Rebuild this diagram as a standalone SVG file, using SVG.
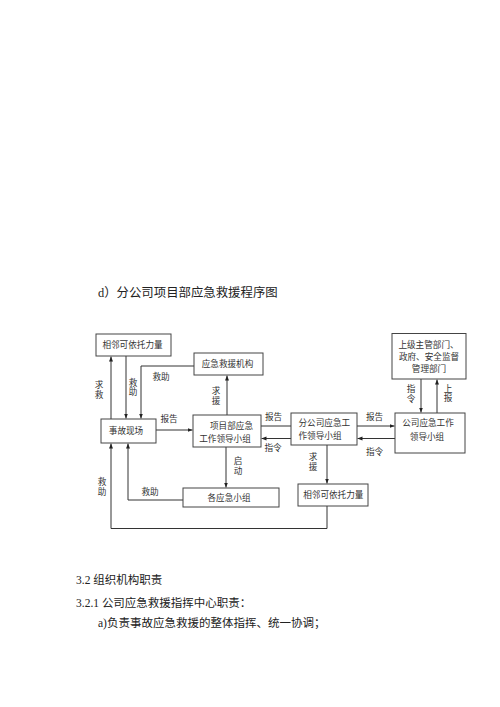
<svg xmlns="http://www.w3.org/2000/svg" width="500" height="707" viewBox="0 0 500 707">
<defs>
<style>
.b{fill:#fff;stroke:#444;stroke-width:1}
.c{fill:none;stroke:#333;stroke-width:1}
.ca{fill:none;stroke:#333;stroke-width:1;marker-end:url(#a)}
.t{font-family:"Liberation Serif","Noto Sans CJK SC",serif;font-size:8.6px;fill:#333;dominant-baseline:central}
.m{text-anchor:middle}
.p{font-family:"Liberation Serif","Noto Sans CJK SC",serif;fill:#222;dominant-baseline:central}
</style>
<marker id="a" viewBox="0 0 10 10" refX="10" refY="5" markerWidth="5" markerHeight="5" orient="auto" markerUnits="userSpaceOnUse">
<path d="M0,1 L10,5 L0,9 z" fill="#222"/>
</marker>
</defs>
<rect width="500" height="707" fill="#fff"/>

<text class="p" x="98" y="293" font-size="12.4">d）分公司项目部应急救援程序图</text>

<g id="connectors">
<path class="ca" d="M111,419 V356.5"/>
<path class="ca" d="M126,356 V418.5"/>
<path class="ca" d="M194,366 H141 V418.5"/>
<path class="ca" d="M156,430 H192.5"/>
<path class="ca" d="M227,415 V375.5"/>
<path class="c" d="M261,426 H291"/>
<path class="ca" d="M291,438.5 H261.5"/>
<path class="ca" d="M357,426 H394.5"/>
<path class="ca" d="M395,438.5 H357.5"/>
<path class="ca" d="M421,379 V412.5"/>
<path class="ca" d="M437,413 V379.5"/>
<path class="ca" d="M226,447 V487.5"/>
<path class="ca" d="M327,445 V483.5"/>
<path class="ca" d="M183,500 H128 V443.5"/>
<path class="ca" d="M327,506 V528.5 H111 V443.5"/>
</g>

<g id="labels">
<text class="t m" x="99" y="385">求</text><text class="t m" x="99" y="394.5">救</text>
<text class="t m" x="133" y="382.5">救</text><text class="t m" x="133" y="392">助</text>
<text class="t m" x="161" y="377">救助</text>
<text class="t m" x="216" y="391">求</text><text class="t m" x="216" y="400.5">援</text>
<text class="t m" x="169" y="419">报告</text>
<text class="t m" x="273.5" y="417">报告</text>
<text class="t m" x="273" y="448">指令</text>
<text class="t m" x="238" y="461">启</text><text class="t m" x="238" y="471">动</text>
<text class="t m" x="313" y="456.5">求</text><text class="t m" x="313" y="466.5">援</text>
<text class="t m" x="374.5" y="416.7">报告</text>
<text class="t m" x="374.5" y="451.7">指令</text>
<text class="t m" x="411" y="389">指</text><text class="t m" x="411" y="398.5">令</text>
<text class="t m" x="448" y="388.5">上</text><text class="t m" x="448" y="398">报</text>
<text class="t m" x="102" y="482">救</text><text class="t m" x="102" y="491.5">助</text>
<text class="t m" x="150" y="491.7">救助</text>
</g>

<g id="n-xianglin-top">
<rect class="b" x="96" y="334" width="75" height="22"/>
<text class="t m" x="132.5" y="345">相邻可依托力量</text>
</g>
<g id="n-jiuyuan">
<rect class="b" x="194" y="353" width="69" height="22"/>
<text class="t m" x="227.5" y="364">应急救援机构</text>
</g>
<g id="n-shigu">
<rect class="b" x="101" y="419" width="55" height="24"/>
<text class="t m" x="126" y="431">事故现场</text>
</g>
<g id="n-xiangmu">
<rect class="b" x="193" y="415" width="68" height="32"/>
<text class="t m" x="231.5" y="425.5">项目部应急</text>
<text class="t m" x="225" y="439">工作领导小组</text>
</g>
<g id="n-fengongsi">
<rect class="b" x="291" y="413" width="66" height="32"/>
<text class="t" x="298.5" y="422.7">分公司应急工</text>
<text class="t" x="298.5" y="436">作领导小组</text>
</g>
<g id="n-gongsi">
<rect class="b" x="395" y="413" width="70" height="40"/>
<text class="t m" x="428" y="423.3">公司应急工作</text>
<text class="t m" x="427" y="436.7">领导小组</text>
</g>
<g id="n-shangji">
<rect class="b" x="392" y="333.5" width="74" height="45.5"/>
<text class="t m" x="428.5" y="345">上级主管部门、</text>
<text class="t m" x="429" y="357">政府、安全监督</text>
<text class="t m" x="429" y="369.3">管理部门</text>
</g>
<g id="n-xiaozu">
<rect class="b" x="183" y="488" width="96" height="19"/>
<text class="t m" x="229" y="497.5">各应急小组</text>
</g>
<g id="n-xianglin-bottom">
<rect class="b" x="298" y="484" width="70" height="22"/>
<text class="t m" x="333.3" y="495">相邻可依托力量</text>
</g>

<text class="p" x="76" y="580" font-size="11.5">3.2 组织机构职责</text>
<text class="p" x="76" y="603" font-size="11.5">3.2.1 公司应急救援指挥中心职责：</text>
<text class="p" x="98" y="623" font-size="11.5">a)负责事故应急救援的整体指挥、统一协调；</text>
</svg>
